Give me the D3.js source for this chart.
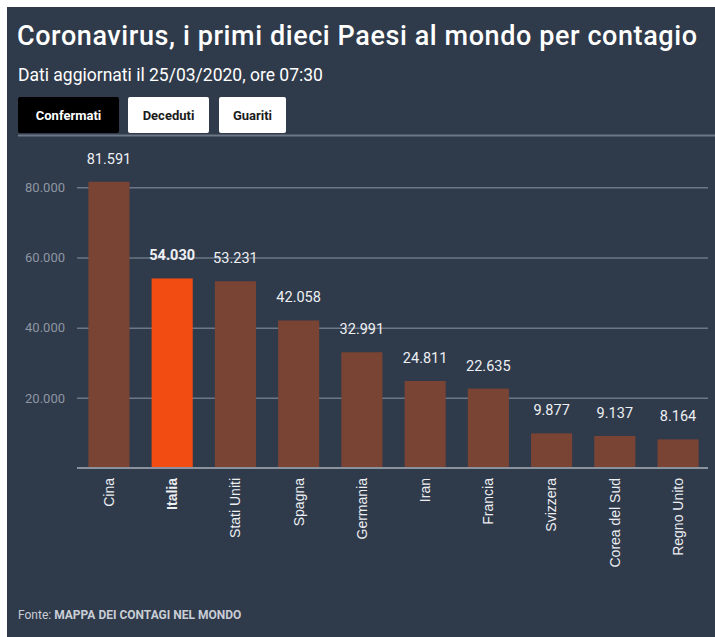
<!DOCTYPE html>
<html lang="it">
<head>
<meta charset="utf-8">
<style>
body {
  margin: 0;
  background: #fff;
  font-family: Roboto, "Liberation Sans", Arial, sans-serif;
}
svg {
  display: block;
}
</style>
</head>
<body>
<script src="https://cdn.jsdelivr.net/npm/d3@7"></script>
<script>

var paesi = ["Cina", "Italia", "Stati Uniti", "Spagna", "Germania", "Iran", "Francia", "Svizzera", "Corea del Sud", "Regno Unito"];
var confermati = [81591, 54030, 53231, 42058, 32991, 24811, 22635, 9877, 9137, 8164];
var yTicks = [20000, 40000, 60000, 80000];
var tabs = ["Confermati", "Deceduti", "Guariti"];

var width = 715,
    height = 637;

var margin = {top: 140, right: 7, bottom: 169, left: 77};

var fmt = function(v) { return d3.format(",")(v).replace(/,/g, "."); };

var svg = d3.select("body").append("svg")
    .attr("width", width)
    .attr("height", height);

// sfondo scuro, bordo bianco in alto e a sinistra
svg.append("rect")
    .attr("x", 7)
    .attr("y", 7)
    .attr("width", width - 7)
    .attr("height", height - 7)
    .attr("fill", "#2f3a4b");

svg.append("text")
    .attr("x", 17)
    .attr("y", 45)
    .attr("fill", "#ffffff")
    .attr("textLength", 680)
    .style("font-size", "27px")
    .style("font-weight", 500)
    .text("Coronavirus, i primi dieci Paesi al mondo per contagio");

svg.append("text")
    .attr("x", 18)
    .attr("y", 81)
    .attr("fill", "#ffffff")
    .style("font-size", "17.5px")
    .text("Dati aggiornati il 25/03/2020, ore 07:30");

// linguette
var tabX = [18, 128, 219],
    tabW = [101, 81, 67];

var tab = svg.selectAll("g.tab")
    .data(tabs)
    .enter().append("g")
    .attr("class", "tab")
    .attr("transform", function(d, i) { return "translate(" + tabX[i] + ",97)"; });

tab.append("rect")
    .attr("width", function(d, i) { return tabW[i]; })
    .attr("height", 36)
    .attr("rx", 2)
    .attr("fill", function(d, i) { return i === 0 ? "#000000" : "#ffffff"; });

tab.append("text")
    .attr("x", function(d, i) { return tabW[i] / 2; })
    .attr("y", 23)
    .attr("text-anchor", "middle")
    .attr("fill", function(d, i) { return i === 0 ? "#ffffff" : "#1b1b1b"; })
    .style("font-size", "13px")
    .style("font-weight", "bold")
    .text(function(d) { return d; });

svg.append("line")
    .attr("x1", 18)
    .attr("x2", width)
    .attr("y1", 135.5)
    .attr("y2", 135.5)
    .attr("stroke", "#6d7785")
    .attr("stroke-width", 2);

var x = d3.scaleBand()
    .domain(paesi)
    .range([margin.left, 710])
    .paddingInner(0.35)
    .paddingOuter(0.18);

var y = d3.scaleLinear()
    .domain([0, 93500])
    .range([height - margin.bottom, margin.top]);

var g = svg.append("g");

g.append("g")
    .attr("transform", "translate(" + margin.left + ",0)")
    .call(d3.axisLeft(y)
        .tickValues(yTicks)
        .tickSize(-(width - margin.right - margin.left))
        .tickPadding(12)
        .tickFormat(fmt))
    .call(function(a) {
        a.select(".domain").remove();
        a.selectAll(".tick line")
            .attr("stroke", "#6d7785")
            .attr("stroke-width", 1.5);
        a.selectAll(".tick text")
            .attr("fill", "#8e96a2")
            .style("font-size", "13px")
            .style("font-family", "Roboto, sans-serif");
    });

g.selectAll("rect.bar")
    .data(confermati)
    .enter().append("rect")
    .attr("class", "bar")
    .attr("x", function(d, i) { return x(paesi[i]); })
    .attr("y", function(d) { return y(d); })
    .attr("width", x.bandwidth())
    .attr("height", function(d) { return y(0) - y(d); })
    .attr("fill", function(d, i) { return paesi[i] === "Italia" ? "#f24c13" : "#7a4434"; });

g.selectAll("text.val")
    .data(confermati)
    .enter().append("text")
    .attr("class", "val")
    .attr("x", function(d, i) { return x(paesi[i]) + x.bandwidth() / 2; })
    .attr("y", function(d) { return y(d) - 18; })
    .attr("text-anchor", "middle")
    .attr("fill", "#eef0f3")
    .style("font-size", "14.5px")
    .style("font-weight", function(d, i) { return paesi[i] === "Italia" ? "bold" : "normal"; })
    .text(fmt);

// asse x
g.append("g")
    .attr("transform", "translate(0," + y(0) + ")")
    .call(d3.axisBottom(x).tickSize(0).tickPadding(0))
    .call(function(a) {
        a.select(".domain")
            .attr("stroke", "#8a929d")
            .attr("stroke-width", 2)
            .attr("d", "M" + margin.left + ",0H" + (width - margin.right));
        a.selectAll(".tick text")
            .attr("transform", "rotate(-90)")
            .attr("x", -10)
            .attr("y", 0)
            .attr("dy", "0.35em")
            .attr("text-anchor", "end")
            .attr("fill", "#eceef1")
            .style("font-size", "14px")
            .style("font-family", "\"Liberation Sans\", Arial, sans-serif")
            .style("font-weight", function(d) { return d === "Italia" ? "bold" : "normal"; });
    });

var fonte = svg.append("text")
    .attr("x", 18)
    .attr("y", 619)
    .attr("fill", "#c9ced6")
    .style("font-size", "12px");

fonte.append("tspan").text("Fonte: ");
fonte.append("tspan").style("font-weight", "bold").text("MAPPA DEI CONTAGI NEL MONDO");

</script>
</body>
</html>
